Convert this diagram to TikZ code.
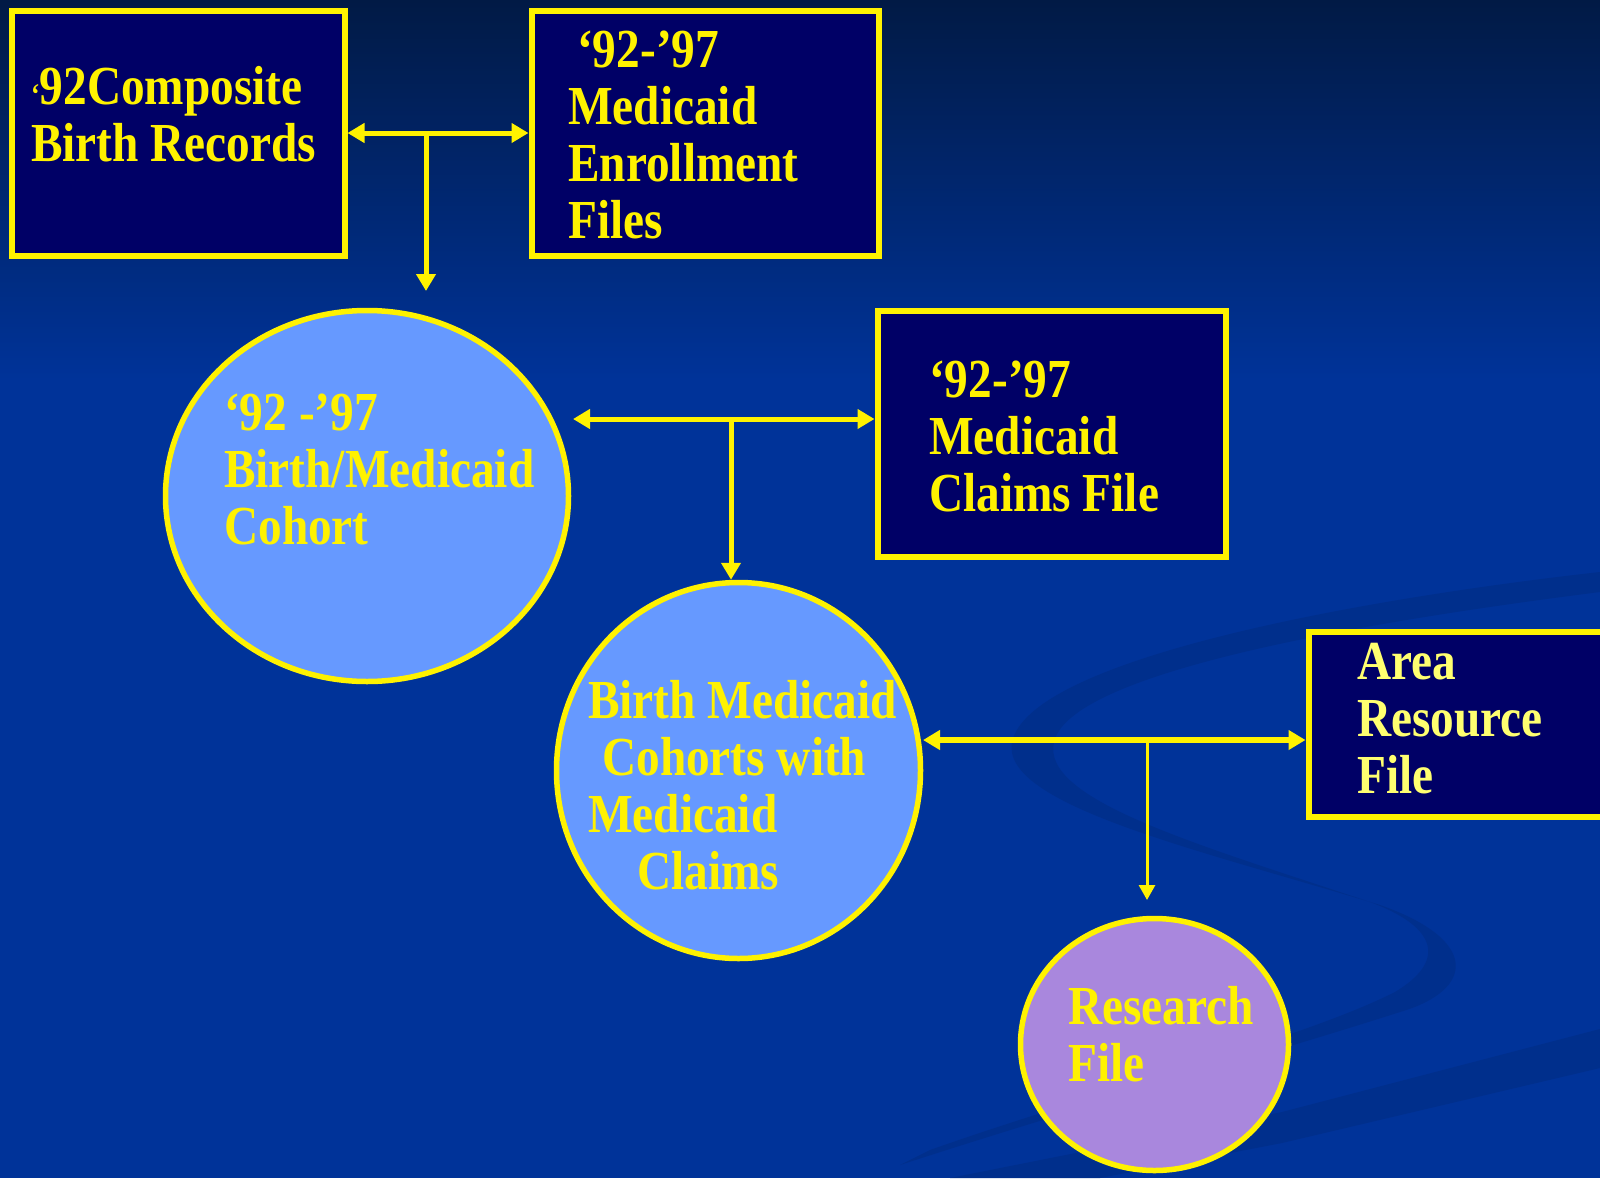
\documentclass[tikz,border=0pt]{standalone}
\usepackage{fontspec}
\setmainfont{Liberation Serif}[FakeStretch=0.86]
\usetikzlibrary{arrows.meta,shapes.geometric}

\definecolor{deepnavy}{HTML}{000066}
\definecolor{slideblue}{HTML}{003399}
\definecolor{slidetop}{HTML}{011A45}
\definecolor{cohortblue}{HTML}{6699FF}
\definecolor{researchlilac}{HTML}{A987DD}
\definecolor{swooshblue}{HTML}{002F8C}
\definecolor{paleyellow}{HTML}{FFFF70}

\begin{document}
\begin{tikzpicture}[
  x=1pt, y=-1pt,
  file_box/.style={draw=yellow, fill=deepnavy, line width=6pt, rectangle},
  cohort_node/.style={draw=yellow, fill=cohortblue, line width=5.5pt, ellipse},
  research_node/.style={draw=yellow, fill=researchlilac, line width=5.5pt, ellipse},
  txt/.style={text=yellow, anchor=base west, align=left, inner sep=0pt,
    font=\fontsize{55}{57}\selectfont\bfseries},
  link/.style={draw=yellow, line width=5pt, arrows={-Triangle[length=17pt, width=19pt]}},
  dbl_link/.style={link, arrows={Triangle[length=17pt, width=19pt]-Triangle[length=17pt, width=19pt]}},
  thin_link/.style={draw=yellow, line width=3pt, arrows={-Triangle[length=15pt, width=16pt]}}
  ]
	\useasboundingbox (0,0) rectangle (1600,1178);
	\clip (0,0) rectangle (1600,1178);

	% background
	\shade[top color=slidetop, bottom color=slideblue] (0,0) rectangle (1600,380);
	\fill[slideblue] (0,379) rectangle (1600,1178);
	\fill[swooshblue] (1600,572) .. controls (1350,600) and (1030,660) .. (1012,742)
	  .. controls (1000,805) and (1200,850) .. (1380,905)
	  .. controls (1480,940) and (1475,990) .. (1400,1012)
	  .. controls (1250,1060) and (1100,1100) .. (900,1165)
	  -- (930,1150) .. controls (1100,1090) and (1300,1040) .. (1395,992)
	  .. controls (1445,962) and (1440,928) .. (1370,902)
	  .. controls (1200,845) and (1040,800) .. (1054,742)
	  .. controls (1068,680) and (1300,630) .. (1600,592) -- cycle;
	\fill[swooshblue] (1600,1029) -- (1600,1068) -- (1282,1143) -- (1100,1178) -- (950,1178) -- (1282,1112) -- cycle;

	% boxes and ellipses
	\node[file_box, minimum width=333, minimum height=245] (birth) at (178,133) {};
	\node[file_box, minimum width=347, minimum height=245] (enroll) at (705,133) {};
	\node[cohort_node, minimum width=403, minimum height=371] (cohort) at (367,496) {};
	\node[file_box, minimum width=348, minimum height=246] (claims) at (1051.5,433.5) {};
	\node[cohort_node, minimum width=364, minimum height=376] (merged) at (738.5,770.5) {};
	\node[file_box, minimum width=400, minimum height=185] (area) at (1508.5,724) {};
	\node[research_node, minimum width=268, minimum height=252] (research) at (1154.5,1044.5) {};

	% texts (anchored at the baseline of the last line)
	\node[txt] (birth_txt) at (31,161) {{\fontsize{30}{30}\selectfont ‘}92Composite\\Birth Records};
	\node[txt] (enroll_txt) at (568,238) {\hspace*{9pt}‘92-’97\\Medicaid\\Enrollment\\Files};
	\node[txt] (cohort_txt) at (224,544) {‘92 -’97\\Birth/Medicaid\\Cohort};
	\node[txt] (claims_txt) at (929,511) {‘92-’97\\Medicaid\\Claims File};
	\node[txt] (merged_txt) at (588,889) {Birth Medicaid\\\hspace*{14pt}Cohorts with\\Medicaid\\\hspace*{49pt}Claims};
	\node[txt, text=paleyellow] (area_txt) at (1357,793) {Area\\Resource\\File};
	\node[txt] (research_txt) at (1068,1081) {Research\\File};

	% connectors
	\coordinate (split1) at (426,133);
	\coordinate (cohort_in) at (426,291);
	\coordinate (cohort_out) at (573,419);
	\coordinate (split2) at (731,419);
	\coordinate (merged_out) at (923,740);
	\coordinate (split3) at (1147,740);
	\coordinate (research_in) at (1147,900);

	\draw[dbl_link] (birth) -- (enroll);
	\draw[link] (split1) -- (cohort_in);
	\draw[dbl_link] (cohort_out) -- (claims.west |- cohort_out);
	\draw[link] (split2) -- (split2 |- merged.north);
	\draw[dbl_link, line width=5.5pt] (merged_out) -- (area.west |- merged_out);
	\draw[thin_link] (split3) -- (research_in);
\end{tikzpicture}
\end{document}
